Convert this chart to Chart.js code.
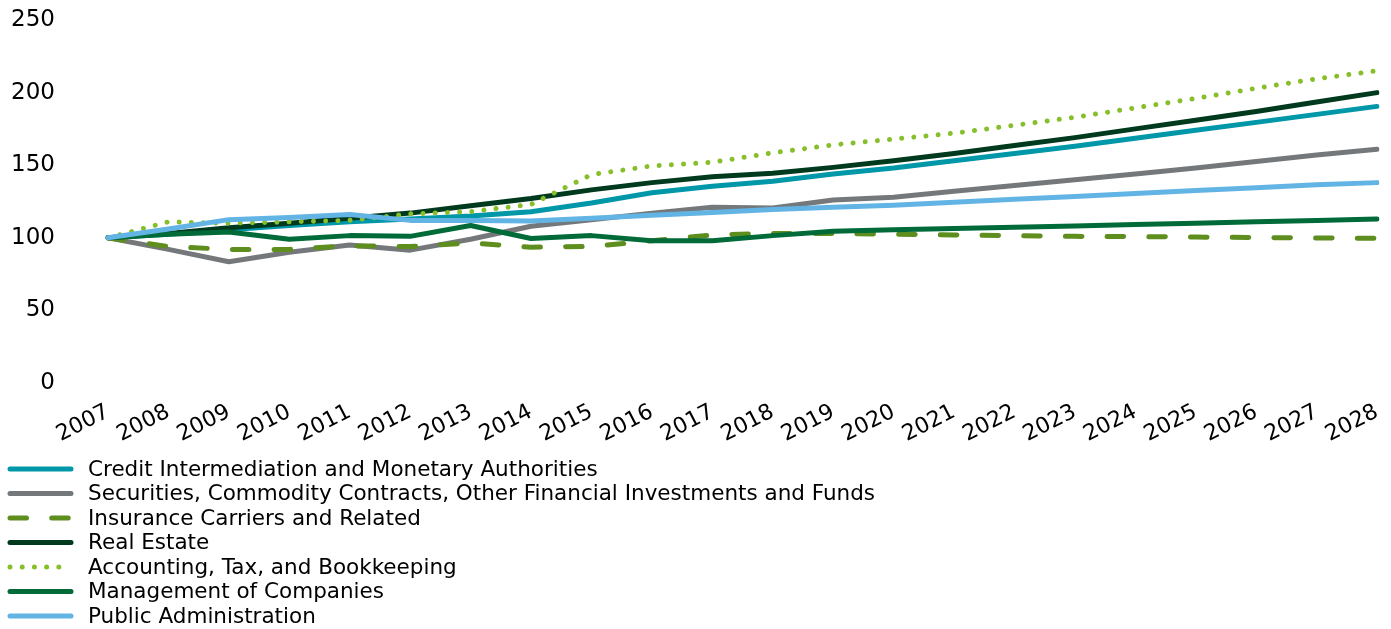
<!DOCTYPE html>
<html>
<head>
<meta charset="utf-8">
<script src="https://cdn.jsdelivr.net/npm/chart.js@4/dist/chart.umd.min.js"></script>
<style>
  html, body { margin: 0; padding: 0; background: #fff; }
  #wrap { width: 1391px; height: 629px; }
</style>
</head>
<body>
<div id="wrap"><canvas id="industry-index"></canvas></div>
<script>
// years on the x axis
const years = ['2007', '2008', '2009', '2010', '2011', '2012', '2013', '2014', '2015', '2016', '2017',
    '2018', '2019', '2020', '2021', '2022', '2023', '2024', '2025', '2026', '2027', '2028'];

// index values, 2007 = 100
const creditIntermediation = [100, 102.5, 105.5, 108.5, 111, 113, 115, 118, 124, 131, 135.5, 139, 144, 148, 153, 158, 163, 168.5, 174, 179.5, 185, 190.5];
const securities = [100, 92, 83.5, 90, 95, 91.5, 99, 108, 112.5, 117, 121, 120.5, 126, 128, 132, 136, 140, 144, 148, 152.5, 157, 161];
const insurance = [100, 94, 92, 92, 94.5, 94, 96.5, 93.5, 94, 98, 102, 103, 103, 102.5, 102, 101.5, 101, 100.8, 100.5, 100.2, 99.9, 99.6];
const realEstate = [100, 103, 107, 110, 113.5, 117, 122, 127, 133, 138, 142, 144.5, 148.5, 153, 158, 163.5, 169, 175, 181, 187, 193.5, 200];
const accounting = [100, 111, 110, 111, 112, 116.5, 118, 123, 143.5, 149.5, 152, 158.5, 164, 168, 172, 177.5, 183, 189.5, 196, 203, 209.5, 215];
const management = [100, 102.5, 104, 99, 101.5, 101, 108.5, 99.5, 101.5, 98, 98, 101.5, 104.5, 105.5, 106.4, 107.3, 108.2, 109.1, 110.1, 111, 112, 113];
const publicAdmin = [100, 106, 112.5, 114, 116, 112, 112, 111.5, 113.5, 115.5, 117.5, 119.5, 121, 122.5, 124.5, 126.5, 128.5, 130.5, 132.5, 134.5, 136.5, 138];

const seriesNames = [
    'Credit Intermediation and Monetary Authorities',
    'Securities, Commodity Contracts, Other Financial Investments and Funds',
    'Insurance Carriers and Related',
    'Real Estate',
    'Accounting, Tax, and Bookkeeping',
    'Management of Companies',
    'Public Administration'
];
const seriesValues = [creditIntermediation, securities, insurance, realEstate, accounting, management, publicAdmin];
const seriesColors = ['#0097A9', '#75787B', '#5E8E1E', '#003A1E', '#86BF2A', '#006A38', '#62B4E4'];
const seriesDash = [[], [], [16.5, 25.2], [], [0.01, 12.2], [], []];

const FONT = "'DejaVu Sans', Verdana, sans-serif";

// legend drawn as a single column under the x axis
const columnLegend = {
    id: 'columnLegend',
    afterDraw(chart) {
        const ctx = chart.ctx;
        ctx.save();
        ctx.font = '21.5px ' + FONT;
        ctx.textBaseline = 'middle';
        ctx.textAlign = 'left';
        chart.data.datasets.forEach((ds, i) => {
            const y = 469 + i * 24.5;
            ctx.beginPath();
            ctx.lineWidth = 5;
            ctx.lineCap = 'round';
            ctx.strokeStyle = ds.borderColor;
            ctx.setLineDash(ds.borderDash);
            ctx.moveTo(10, y);
            ctx.lineTo(71, y);
            ctx.stroke();
            ctx.setLineDash([]);
            ctx.fillStyle = '#000';
            ctx.fillText(ds.label, 88, y + 1);
        });
        ctx.restore();
    }
};

new Chart(document.getElementById('industry-index'), {
    type: 'line',
    data: {
        labels: years,
        datasets: seriesNames.map((name, i) => ({
            label: name,
            data: seriesValues[i],
            borderColor: seriesColors[i],
            backgroundColor: seriesColors[i],
            borderWidth: 5,
            borderDash: seriesDash[i],
            borderCapStyle: 'round',
            borderJoinStyle: 'round',
            pointRadius: 0,
            tension: 0,
            order: seriesNames.length - i
        }))
    },
    options: {
        responsive: true,
        maintainAspectRatio: false,
        animation: false,
        layout: {
            padding: { top: 20, right: 14, bottom: 172, left: 0 }
        },
        plugins: {
            legend: { display: false },
            tooltip: { enabled: false }
        },
        scales: {
            x: {
                offset: false,
                grid: { display: false, drawTicks: false },
                border: { display: false },
                ticks: {
                    color: '#000',
                    font: { family: FONT, size: 22 },
                    maxRotation: 27,
                    minRotation: 27,
                    padding: 16,
                    autoSkip: false
                },
                afterFit: (scale) => {
                    scale.height = 74;
                    scale.paddingLeft = 0;
                    scale.paddingRight = 0;
                }
            },
            y: {
                min: 0,
                max: 250,
                grid: { display: false, drawTicks: false },
                border: { display: false },
                ticks: {
                    stepSize: 50,
                    color: '#000',
                    font: { family: FONT, size: 23 },
                    padding: 53
                },
                afterFit: (scale) => {
                    // keep the wide label gap from pushing the plot down
                    scale.width = 108;
                    scale.paddingTop = 0;
                    scale.paddingBottom = 0;
                }
            }
        }
    },
    plugins: [columnLegend]
});
</script>
</body>
</html>
